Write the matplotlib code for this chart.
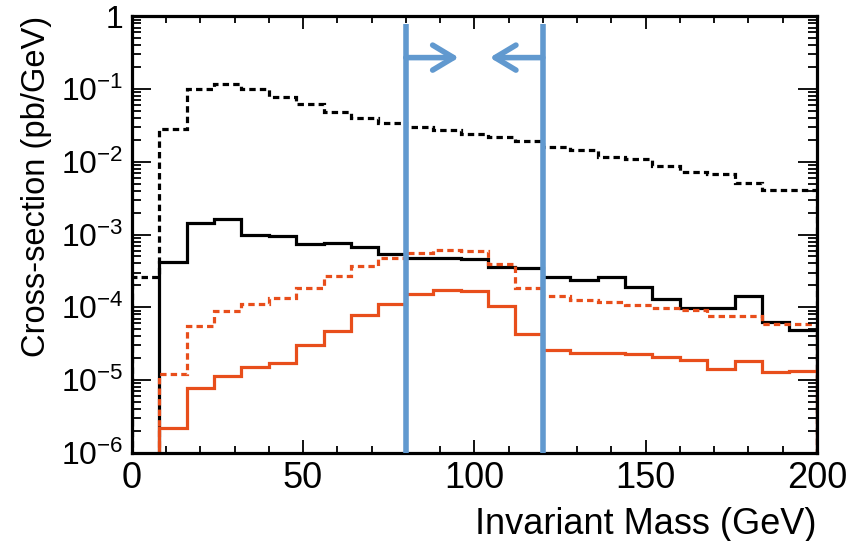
import numpy as np
import matplotlib.pyplot as plt
from matplotlib.ticker import FuncFormatter, LogLocator, MultipleLocator, NullFormatter

plt.rcParams['font.family'] = ['Liberation Sans', 'DejaVu Sans']
plt.rcParams['mathtext.fontset'] = 'custom'
plt.rcParams['mathtext.rm'] = 'Liberation Sans'
plt.rcParams['mathtext.it'] = 'Liberation Sans:italic'

# 25 bins of 8 GeV, values in pb/GeV (bins below 1e-6 are empty)
edges = np.arange(0, 201, 8)
black_dotted = [2.57e-4, 2.83e-2, 1.00e-1, 1.17e-1, 9.9e-2, 7.87e-2, 6.24e-2, 4.9e-2,
                3.97e-2, 3.39e-2, 3.05e-2, 2.74e-2, 2.42e-2, 2.18e-2, 1.9e-2, 1.62e-2,
                1.46e-2, 1.18e-2, 1.08e-2, 8.8e-3, 7.34e-3, 6.83e-3, 5.08e-3, 4.11e-3, 4.11e-3]
black_solid = [1e-9, 4.18e-4, 1.46e-3, 1.64e-3, 9.9e-4, 9.4e-4, 7.45e-4, 7.76e-4,
               6.7e-4, 5.43e-4, 4.73e-4, 4.73e-4, 4.64e-4, 3.56e-4, 3.5e-4, 2.57e-4,
               2.39e-4, 2.57e-4, 1.93e-4, 1.29e-4, 9.74e-5, 9.74e-5, 1.45e-4, 6.26e-5, 4.81e-5]
orange_dotted = [1e-9, 1.22e-5, 5.57e-5, 8.95e-5, 1.12e-4, 1.36e-4, 1.83e-4, 2.65e-4,
                 3.71e-4, 4.78e-4, 5.55e-4, 6.17e-4, 5.97e-4, 3.92e-4, 1.87e-4, 1.41e-4,
                 1.27e-4, 1.2e-4, 1.08e-4, 9.74e-5, 9.04e-5, 7.64e-5, 7.64e-5, 5.93e-5, 5.93e-5]
orange_solid = [1e-9, 2.19e-6, 7.9e-6, 1.12e-5, 1.51e-5, 1.74e-5, 3.05e-5, 4.75e-5,
                7.88e-5, 1.12e-4, 1.5e-4, 1.74e-4, 1.69e-4, 1.05e-4, 4.33e-5, 2.55e-5,
                2.39e-5, 2.39e-5, 2.27e-5, 2.05e-5, 1.9e-5, 1.42e-5, 1.8e-5, 1.27e-5, 1.34e-5]

# mass window cuts
cuts = [80, 120]
cut_top = 0.78
arrow_y = 0.27
arrow_len = 15.5

orange = '#E84E1B'
blue = '#6199CF'

fig = plt.figure(figsize=(8.5, 5.41), dpi=100)
ax = fig.add_axes([0.155, 0.163, 0.806, 0.807])

ax.stairs(black_dotted, edges, color='black', lw=2.3, ls=(0, (2.0, 1.3)))
ax.stairs(black_solid, edges, color='black', lw=2.3)
ax.stairs(orange_dotted, edges, color=orange, lw=2.3, ls=(0, (2.0, 1.3)))
ax.stairs(orange_solid, edges, color=orange, lw=2.3)

ax.vlines(cuts, 1e-6, cut_top, color=blue, lw=4, zorder=5)
for x, d in zip(cuts, [1, -1]):
    ax.annotate('', xy=(x + d * arrow_len, arrow_y), xytext=(x, arrow_y),
                arrowprops=dict(arrowstyle='->,head_length=0.75,head_width=0.45',
                                color=blue, lw=4, mutation_scale=20,
                                shrinkA=0, shrinkB=0), zorder=5)

ax.set_yscale('log')
ax.set_xlim(0, 200)
ax.set_ylim(1e-6, 1)

ax.xaxis.set_major_locator(MultipleLocator(50))
ax.xaxis.set_minor_locator(MultipleLocator(10))
ax.yaxis.set_major_locator(LogLocator(base=10, numticks=10))
ax.yaxis.set_minor_locator(LogLocator(base=10, subs=np.arange(2, 10), numticks=20))


def ylab(v, pos):
    e = int(round(np.log10(v)))
    if e == 0:
        return '1'
    return r'$\mathregular{10^{%d}}$' % e


ax.yaxis.set_major_formatter(FuncFormatter(ylab))
ax.yaxis.set_minor_formatter(NullFormatter())

ax.tick_params(which='both', direction='in', top=True, right=True, width=1.3,
               colors='black')
ax.tick_params(axis='x', which='major', length=9.5, pad=6, labelsize=26)
ax.tick_params(axis='x', which='minor', length=5)
ax.tick_params(axis='y', which='major', length=14, pad=6, labelsize=23)
ax.tick_params(axis='y', which='minor', length=6.5)

for s in ax.spines.values():
    s.set_linewidth(2.3)

ax.set_xlabel('Invariant Mass (GeV)', fontsize=26, loc='right', labelpad=8)
ax.set_ylabel('Cross-section (pb/GeV)', fontsize=23.5, loc='top', labelpad=6)

fig.savefig('out.png', dpi=100)
